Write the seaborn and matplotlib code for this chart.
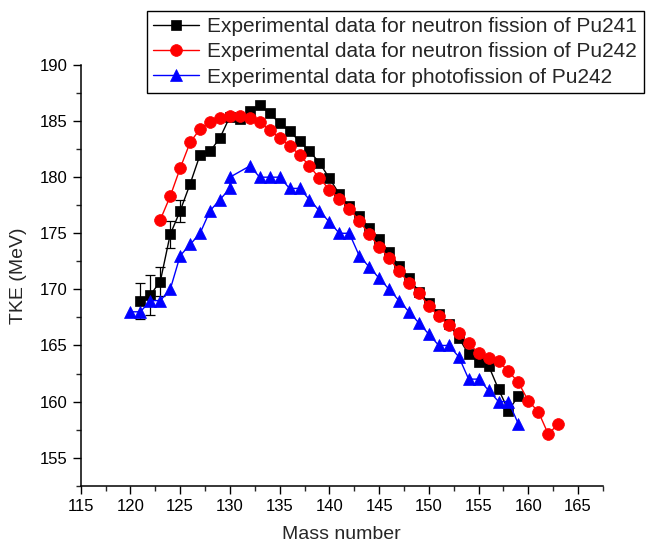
import matplotlib
matplotlib.use("Agg")
import matplotlib.pyplot as plt
from matplotlib.ticker import MultipleLocator
import seaborn as sns
import numpy as np
import pandas as pd

# ---- data ----
mass_pu241_n = list(range(121, 160))
tke_pu241_n = [169.0, 169.5, 170.7, 174.9, 177.0, 179.4, 182.0, 182.3, 183.5, 185.4,
               185.2, 185.9, 186.4, 185.7, 184.8, 184.1, 183.2, 182.3, 181.3, 179.9,
               178.5, 177.4, 176.5, 175.5, 174.5, 173.3, 172.1, 171.0, 169.8, 168.8,
               167.8, 166.9, 165.7, 164.2, 163.5, 163.2, 161.1, 159.2, 160.5]
err_mass = [121, 122, 123, 124, 125]
err_val = [1.6, 1.75, 1.3, 1.2, 1.0]

mass_pu242_n = list(range(123, 164))
tke_pu242_n = [176.2, 178.3, 180.8, 183.1, 184.3, 184.95, 185.25, 185.45, 185.45, 185.25,
               184.9, 184.2, 183.5, 182.8, 182.0, 181.0, 179.9, 178.9, 178.1, 177.2,
               176.1, 174.9, 173.8, 172.8, 171.6, 170.6, 169.7, 168.5, 167.6, 166.8,
               166.1, 165.2, 164.3, 163.9, 163.6, 162.7, 161.7, 160.05, 159.1, 157.1,
               158.0]

mass_pu242_g = [120, 121, 122, 123, 124, 125, 126, 127, 128, 129,
                130, 130, 132, 133, 134, 135, 136, 137, 138, 139,
                140, 141, 142, 143, 144, 145, 146, 147, 148, 149,
                150, 151, 152, 153, 154, 155, 156, 157, 158, 159]
tke_pu242_g = [168, 168, 169, 169, 170, 173, 174, 175, 177, 178,
               179, 180, 181, 180, 180, 180, 179, 179, 178, 177,
               176, 175, 175, 173, 172, 171, 170, 169, 168, 167,
               166, 165, 165, 164, 162, 162, 161, 160, 160, 158]

labels = ["Experimental data for neutron fission of Pu241",
          "Experimental data for neutron fission of Pu242",
          "Experimental data for photofission of Pu242"]
x_ticks = [115, 120, 125, 130, 135, 140, 145, 150, 155, 160, 165]
y_ticks = [155, 160, 165, 170, 175, 180, 185, 190]

# ---- style ----
sns.set_style("ticks")
plt.rcParams['font.family'] = ['Liberation Sans', 'DejaVu Sans']

fig = plt.figure(figsize=(6.46, 5.49), dpi=100)
ax = fig.add_axes([0.1249, 0.1153, 0.9334 - 0.1249, 0.8816 - 0.1153])

df1 = pd.DataFrame({"m": mass_pu241_n, "tke": tke_pu241_n})
df2 = pd.DataFrame({"m": mass_pu242_n, "tke": tke_pu242_n})
df3 = pd.DataFrame({"m": mass_pu242_g, "tke": tke_pu242_g})

err_y = [tke_pu241_n[mass_pu241_n.index(m)] for m in err_mass]
ax.errorbar(err_mass, err_y, yerr=err_val, fmt='none', ecolor='black',
            elinewidth=0.9, capsize=3.5, capthick=0.9, zorder=1)

sns.lineplot(data=df1, x="m", y="tke", ax=ax, color="black", marker="s",
             markersize=7, markeredgecolor="black", markeredgewidth=0.5,
             linewidth=1, label=labels[0], zorder=2, estimator=None, sort=False)
sns.lineplot(data=df2, x="m", y="tke", ax=ax, color="red", marker="o",
             markersize=8.5, markeredgecolor="red", markeredgewidth=0.5,
             linewidth=1, label=labels[1], zorder=3, estimator=None, sort=False)
sns.lineplot(data=df3, x="m", y="tke", ax=ax, color="blue", marker="^",
             markersize=9, markeredgecolor="blue", markeredgewidth=0.5,
             linewidth=1, label=labels[2], zorder=4, estimator=None, sort=False)

ax.set_xlim(115, 167.5)
ax.set_ylim(152.5, 190)
ax.set_xticks(x_ticks)
ax.set_yticks(y_ticks)
ax.xaxis.set_minor_locator(MultipleLocator(2.5))
ax.yaxis.set_minor_locator(MultipleLocator(2.5))
ax.tick_params(which='major', direction='out', length=6, width=1,
               labelsize=12, colors='black')
ax.tick_params(which='minor', direction='out', length=3.5, width=1)
for s in ['left', 'bottom']:
    ax.spines[s].set_linewidth(1.1)
    ax.spines[s].set_color('black')
sns.despine(ax=ax)

ax.set_xlabel("Mass number", fontsize=14, labelpad=9)
ax.set_ylabel("TKE (MeV)", fontsize=14, labelpad=9)

h, l = ax.get_legend_handles_labels()
ax.get_legend().remove()
leg = fig.legend(h, l, loc='upper left', bbox_to_anchor=(0.2276, 0.98),
                 fontsize=15, frameon=True, fancybox=False, shadow=False,
                 framealpha=1, edgecolor='black', borderpad=0.3,
                 labelspacing=0.3, handlelength=2.2, handletextpad=0.4,
                 borderaxespad=0)
leg.get_frame().set_linewidth(1)

fig.savefig("out.png", dpi=100)
